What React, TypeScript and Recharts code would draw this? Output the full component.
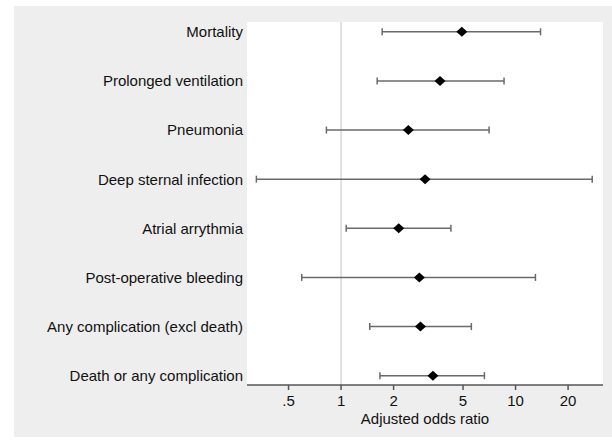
import { ScatterChart, Scatter, XAxis, YAxis, CartesianGrid, ReferenceLine, ErrorBar } from 'recharts'

const outcomes = [
  'Mortality',
  'Prolonged ventilation',
  'Pneumonia',
  'Deep sternal infection',
  'Atrial arrythmia',
  'Post-operative bleeding',
  'Any complication (excl death)',
  'Death or any complication'
]
const oddsRatios = [4.92, 3.69, 2.43, 3.03, 2.14, 2.81, 2.85, 3.36]
const lowerCI = [1.72, 1.61, 0.824, 0.327, 1.07, 0.595, 1.46, 1.67]
const upperCI = [13.9, 8.59, 7.05, 27.5, 4.26, 13.0, 5.58, 6.63]
const xTicks = [0.5, 1, 2, 5, 10, 20]
const xTickLabels = ['.5', '1', '2', '5', '10', '20']

const data = outcomes.map((name, i) => ({
  name,
  row: i,
  or: oddsRatios[i],
  ci: [oddsRatios[i] - lowerCI[i], upperCI[i] - oddsRatios[i]]
}))

const colors = {
  panel: '#eeeeee',
  plot: '#ffffff',
  text: '#111111',
  bar: '#6a6a6a',
  axis: '#555555',
  refLine: '#c4c4c4'
}

// diamond marker centred on the point the scales give us
const Diamond = (props: any) => {
  const { cx, cy } = props
  if (cx == null || cy == null) return null
  const hw = 5.5
  const hh = 5
  return (
    <polygon
      points={`${cx - hw},${cy} ${cx},${cy - hh} ${cx + hw},${cy} ${cx},${cy + hh}`}
      fill="#000"
    />
  )
}

export default function App() {
  return (
    <div style={{ position: 'absolute', left: 0, top: 0, width: 612, height: 442, background: '#fff' }}>
      <div style={{ position: 'absolute', left: 14, top: 6, width: 598, height: 431, background: colors.panel }} />
      <div style={{ position: 'absolute', left: 0, top: 0 }}>
        <ScatterChart
          width={612}
          height={442}
          margin={{ top: 22, right: 9, left: 14, bottom: 17 }}
          style={{ fontFamily: '"Liberation Sans", Arial, sans-serif' }}
        >
          <CartesianGrid fill={colors.plot} horizontal={false} vertical={false} stroke="none" />
          <XAxis
            type="number"
            dataKey="or"
            scale="log"
            domain={[0.289, 31.7]}
            allowDataOverflow
            ticks={xTicks}
            tickFormatter={(v) => xTickLabels[xTicks.indexOf(v)] ?? String(v)}
            height={40}
            tickSize={5}
            tickMargin={5.5}
            tick={{ fill: colors.text, fontSize: 15 }}
            axisLine={{ stroke: colors.axis, strokeWidth: 1.5 }}
            tickLine={{ stroke: colors.axis, strokeWidth: 1.5 }}
            label={{
              value: 'Adjusted odds ratio',
              position: 'insideBottom',
              offset: 1.5,
              style: { fill: colors.text, fontSize: 15 }
            }}
          />
          <YAxis
            type="number"
            dataKey="row"
            domain={[-0.2, 7.19]}
            reversed
            allowDataOverflow
            ticks={outcomes.map((_, i) => i)}
            tickFormatter={(v) => outcomes[v] ?? ''}
            width={233}
            tickSize={0}
            tickMargin={4}
            axisLine={false}
            tickLine={false}
            interval={0}
            tick={{ fill: colors.text, fontSize: 15 }}
          />
          <ReferenceLine x={1} stroke={colors.refLine} strokeWidth={1} />
          <Scatter data={data} shape={<Diamond />} isAnimationActive={false}>
            <ErrorBar
              dataKey="ci"
              direction="x"
              width={3.5}
              stroke={colors.bar}
              strokeWidth={1.5}
              isAnimationActive={false}
            />
          </Scatter>
        </ScatterChart>
      </div>
    </div>
  )
}
